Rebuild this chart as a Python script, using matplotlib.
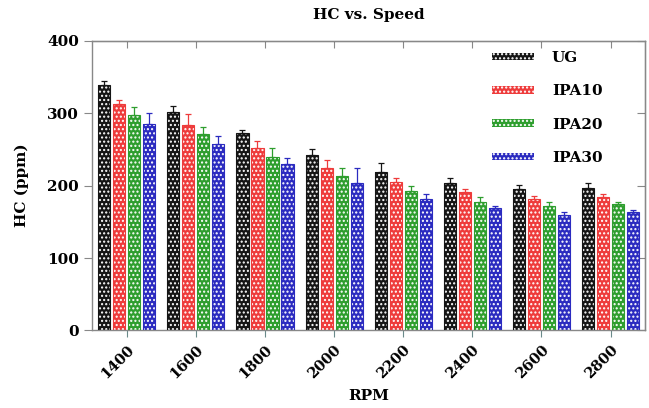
import numpy as np
import matplotlib.pyplot as plt
from matplotlib.patches import Patch

rpm = ["1400", "1600", "1800", "2000", "2200", "2400", "2600", "2800"]
fuels = ["UG", "IPA10", "IPA20", "IPA30"]
colors = ["#151515", "#ee3b3b", "#2e9e2e", "#2b2bc0"]

hc_ug = [339, 302, 272, 242, 219, 203, 195, 197]
hc_ipa10 = [313, 284, 252, 224, 205, 191, 181, 185]
hc_ipa20 = [298, 271, 240, 213, 192, 178, 172, 174]
hc_ipa30 = [285, 257, 230, 203, 182, 169, 160, 164]

err_ug = [6, 8, 5, 8, 12, 7, 6, 6]
err_ipa10 = [5, 15, 10, 12, 6, 5, 5, 3]
err_ipa20 = [10, 10, 12, 12, 7, 6, 5, 4]
err_ipa30 = [15, 12, 8, 22, 6, 3, 4, 3]

values = [hc_ug, hc_ipa10, hc_ipa20, hc_ipa30]
errors = [err_ug, err_ipa10, err_ipa20, err_ipa30]

plt.rcParams["font.family"] = "DejaVu Serif"
plt.rcParams["font.weight"] = "bold"
plt.rcParams["hatch.linewidth"] = 1.0

fig = plt.figure(figsize=(6.49, 4.08), dpi=100)
ax = fig.add_axes([0.142, 0.19, 0.852, 0.71])

x = np.arange(len(rpm))
pitch = 0.217
width = 0.175
hatch = "...."
for i, (vals, errs, c) in enumerate(zip(values, errors, colors)):
    pos = x + (i - 1.5) * pitch
    ax.bar(pos, vals, width, facecolor=c, edgecolor="white", hatch=hatch,
           linewidth=0, zorder=2)
    ax.bar(pos, vals, width, fill=False, edgecolor=c, linewidth=0.8, zorder=3)
    ax.errorbar(pos, vals, yerr=[np.zeros(len(errs)), errs], fmt="none",
                ecolor=c, elinewidth=0.9, capsize=2.5, capthick=0.9, zorder=4)

ax.set_xlim(-0.5, len(rpm) - 0.5)
ax.set_ylim(0, 400)
ax.set_yticks([0, 100, 200, 300, 400])
ax.set_xticks(x)
ax.set_xticklabels(rpm, rotation=45, ha="right", rotation_mode="anchor",
                   fontsize=10.5, fontweight="bold")
ax.tick_params(axis="y", labelsize=11, colors="#888888", labelcolor="black",
               length=6, direction="out")
ax.tick_params(axis="x", length=5, colors="#6a8a8a", labelcolor="black",
               direction="out")
for sp in ax.spines.values():
    sp.set_color("#888888")
    sp.set_linewidth(1.0)

# inward ticks on top and right mirror the main ones
sec_x = ax.secondary_xaxis("top")
sec_x.set_xticks(x)
sec_x.set_xticklabels([])
sec_x.tick_params(direction="in", length=5, colors="#888888")
sec_y = ax.secondary_yaxis("right")
sec_y.set_yticks([0, 100, 200, 300, 400])
sec_y.set_yticklabels([])
sec_y.tick_params(direction="in", length=6, colors="#888888")

ax.set_title("HC vs. Speed", fontsize=11, fontweight="bold", pad=16)
ax.set_ylabel("HC (ppm)", fontsize=11, fontweight="bold", labelpad=13)
ax.set_xlabel("RPM", fontsize=11, fontweight="bold", labelpad=6)

handles = [Patch(facecolor=c, edgecolor="white", hatch=hatch, linewidth=0)
           for c in colors]
leg = ax.legend(handles, fuels, loc="upper left", bbox_to_anchor=(0.71, 0.99),
                frameon=False, fontsize=11, handlelength=2.7, handleheight=0.35,
                labelspacing=1.25, handletextpad=1.2, borderpad=0)
for t in leg.get_texts():
    t.set_fontweight("bold")

fig.savefig("out.png", dpi=100)
